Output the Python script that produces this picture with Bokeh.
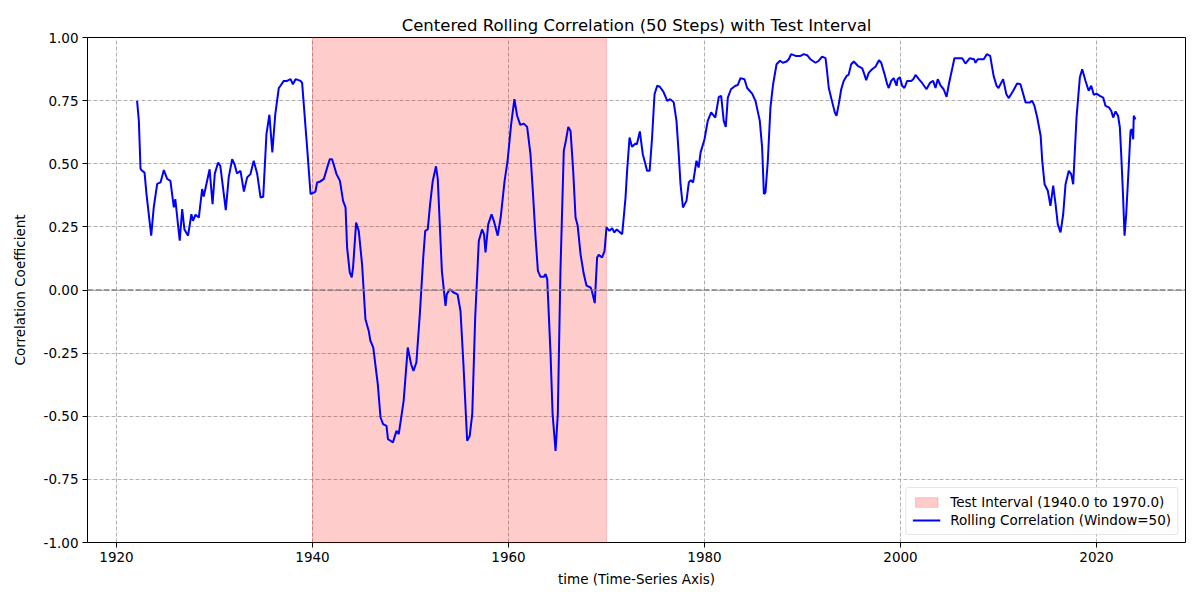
from bokeh.plotting import figure
from bokeh.models import FixedTicker, NumeralTickFormatter, Range1d, Span, Legend, LegendItem
from bokeh.embed import file_html
from bokeh.resources import INLINE

years = [1922.10,1922.28,1922.45,1922.62,1922.86,1923.06,1923.54,1923.80,1924.15,1924.49,1924.83,1925.17,1925.50,1925.85,1926.00,1926.45,1926.70,1926.93,1927.30,1927.64,1927.80,1928.06,1928.40,1928.74,1928.90,1929.50,1929.80,1930.03,1930.37,1930.60,1931.15,1931.45,1931.80,1932.04,1932.30,1932.65,1933.00,1933.33,1933.67,1934.00,1934.36,1934.70,1934.97,1935.30,1935.60,1935.90,1936.20,1936.56,1936.75,1937.07,1937.40,1937.76,1938.00,1938.27,1938.78,1938.94,1939.45,1939.80,1940.13,1940.30,1940.47,1940.80,1941.16,1941.50,1941.76,1942.00,1942.45,1942.80,1943.12,1943.37,1943.53,1943.80,1944.00,1944.14,1944.45,1944.72,1945.06,1945.40,1945.74,1945.90,1946.20,1946.66,1946.94,1947.20,1947.55,1947.70,1947.96,1948.20,1948.57,1948.80,1949.30,1949.72,1950.06,1950.30,1950.60,1950.95,1951.30,1951.50,1951.76,1952.00,1952.27,1952.60,1952.78,1953.20,1953.57,1953.70,1954.00,1954.40,1954.80,1955.10,1955.40,1955.78,1956.04,1956.30,1956.60,1956.97,1957.30,1957.50,1957.65,1957.93,1958.27,1958.50,1958.90,1959.20,1959.60,1959.90,1960.27,1960.60,1960.88,1961.20,1961.56,1961.90,1962.24,1962.50,1962.76,1963.00,1963.27,1963.60,1963.78,1963.95,1964.29,1964.50,1964.80,1965.03,1965.30,1965.64,1965.85,1966.10,1966.33,1966.60,1966.84,1967.06,1967.35,1967.68,1967.96,1968.37,1968.50,1968.80,1969.04,1969.20,1969.55,1969.80,1970.00,1970.30,1970.57,1970.80,1971.05,1971.60,1971.94,1972.10,1972.35,1972.60,1972.96,1973.10,1973.40,1973.70,1973.97,1974.14,1974.40,1974.65,1974.90,1975.17,1975.44,1975.80,1976.20,1976.50,1976.86,1977.14,1977.37,1977.55,1977.80,1978.16,1978.40,1978.60,1978.84,1979.18,1979.40,1979.60,1980.00,1980.33,1980.68,1981.10,1981.46,1981.70,1981.96,1982.17,1982.38,1982.70,1983.15,1983.40,1983.67,1984.08,1984.35,1984.86,1985.20,1985.64,1985.88,1986.06,1986.22,1986.46,1986.73,1987.00,1987.35,1987.70,1988.00,1988.37,1988.60,1988.84,1989.30,1989.80,1990.13,1990.47,1990.80,1991.33,1991.66,1992.00,1992.35,1992.50,1992.68,1993.00,1993.30,1993.47,1993.70,1993.95,1994.20,1994.50,1994.70,1994.97,1995.23,1995.64,1996.10,1996.33,1996.50,1996.77,1997.10,1997.45,1997.80,1998.03,1998.37,1998.64,1998.80,1999.05,1999.30,1999.60,1999.70,1999.93,2000.17,2000.40,2000.68,2001.08,2001.30,2001.53,2001.87,2002.20,2002.65,2003.00,2003.33,2003.57,2003.80,2004.10,2004.40,2004.70,2004.93,2005.30,2005.50,2005.94,2006.30,2006.63,2007.07,2007.50,2007.65,2007.88,2008.50,2008.80,2009.15,2009.50,2009.80,2010.00,2010.47,2010.80,2011.05,2011.50,2011.90,2012.24,2012.76,2013.20,2013.44,2013.67,2013.95,2014.30,2014.46,2014.70,2015.03,2015.30,2015.58,2015.82,2016.05,2016.33,2016.60,2016.84,2017.17,2017.42,2017.62,2017.96,2018.30,2018.54,2018.88,2019.20,2019.46,2019.72,2020.00,2020.34,2020.68,2020.92,2021.26,2021.50,2021.70,2021.94,2022.20,2022.38,2022.52,2022.70,2022.86,2023.03,2023.30,2023.47,2023.60,2023.74,2023.80,2023.97]

corr = [0.749,0.67,0.48,0.472,0.465,0.38,0.215,0.327,0.42,0.426,0.475,0.44,0.432,0.327,0.36,0.195,0.32,0.24,0.215,0.30,0.274,0.298,0.287,0.40,0.37,0.478,0.34,0.461,0.505,0.49,0.316,0.446,0.518,0.498,0.461,0.472,0.39,0.446,0.459,0.512,0.459,0.366,0.369,0.617,0.694,0.545,0.696,0.80,0.81,0.828,0.828,0.835,0.815,0.835,0.828,0.82,0.564,0.38,0.386,0.39,0.426,0.43,0.44,0.485,0.518,0.518,0.459,0.432,0.353,0.327,0.168,0.07,0.05,0.09,0.267,0.234,0.10,-0.116,-0.162,-0.20,-0.228,-0.373,-0.505,-0.531,-0.538,-0.591,-0.597,-0.604,-0.558,-0.571,-0.439,-0.228,-0.294,-0.32,-0.287,-0.096,0.129,0.234,0.24,0.34,0.432,0.49,0.44,0.076,-0.063,-0.017,0.003,-0.01,-0.017,-0.083,-0.294,-0.597,-0.578,-0.492,-0.109,0.195,0.24,0.221,0.149,0.26,0.30,0.274,0.215,0.287,0.432,0.51,0.657,0.756,0.69,0.654,0.659,0.646,0.538,0.38,0.208,0.076,0.052,0.052,0.063,0.043,-0.254,-0.492,-0.637,-0.492,0.076,0.551,0.591,0.646,0.63,0.472,0.287,0.254,0.142,0.063,0.017,0.01,-0.003,-0.052,0.129,0.139,0.129,0.155,0.248,0.234,0.245,0.228,0.24,0.221,0.366,0.472,0.604,0.567,0.58,0.577,0.628,0.538,0.498,0.472,0.472,0.604,0.775,0.809,0.805,0.786,0.749,0.756,0.743,0.67,0.538,0.419,0.327,0.353,0.426,0.435,0.426,0.512,0.485,0.545,0.597,0.67,0.703,0.683,0.765,0.769,0.67,0.646,0.762,0.795,0.809,0.812,0.839,0.835,0.80,0.778,0.749,0.67,0.564,0.38,0.386,0.512,0.723,0.815,0.894,0.908,0.90,0.905,0.914,0.934,0.927,0.927,0.934,0.93,0.914,0.90,0.908,0.924,0.918,0.868,0.80,0.749,0.703,0.69,0.736,0.795,0.828,0.848,0.852,0.894,0.905,0.888,0.878,0.852,0.831,0.861,0.874,0.884,0.91,0.90,0.855,0.815,0.80,0.828,0.839,0.809,0.835,0.842,0.809,0.80,0.828,0.828,0.835,0.852,0.835,0.82,0.795,0.82,0.828,0.80,0.835,0.809,0.795,0.765,0.815,0.881,0.918,0.918,0.918,0.897,0.918,0.914,0.90,0.914,0.914,0.934,0.927,0.848,0.809,0.80,0.835,0.775,0.76,0.789,0.818,0.815,0.743,0.743,0.749,0.729,0.683,0.611,0.512,0.419,0.393,0.333,0.413,0.34,0.26,0.228,0.30,0.419,0.472,0.459,0.419,0.683,0.842,0.874,0.828,0.789,0.809,0.773,0.778,0.769,0.762,0.729,0.723,0.71,0.683,0.707,0.69,0.644,0.538,0.38,0.215,0.30,0.498,0.63,0.637,0.597,0.69,0.676]

test_start = 1940.0
test_end = 1970.0
x_ticks = [1920, 1940, 1960, 1980, 2000, 2020]
y_ticks = [-1.0, -0.75, -0.5, -0.25, 0.0, 0.25, 0.5, 0.75, 1.0]

FONT = "DejaVu Sans"

p = figure(width=1200, height=600, output_backend="svg", toolbar_location=None,
           x_range=Range1d(1917.04, 2029.08), y_range=Range1d(-1.0, 1.0),
           min_border_left=87, min_border_right=15, min_border_top=37, min_border_bottom=58)

p.title.text = "Centered Rolling Correlation (50 Steps) with Test Interval"
p.title.align = "center"
p.title.text_font = FONT
p.title.text_font_size = "16.5px"
p.title.text_font_style = "normal"
p.title.text_color = "black"
p.title.offset = 0
p.title.standoff = 6

p.outline_line_color = "black"
p.outline_line_alpha = 1.0
p.outline_line_width = 1

for ax in (p.xaxis, p.yaxis):
    ax.axis_line_color = None
    ax.major_label_text_font = FONT
    ax.major_label_text_font_size = "13.5px"
    ax.major_label_text_color = "black"
    ax.axis_label_text_font = FONT
    ax.axis_label_text_font_size = "13.5px"
    ax.axis_label_text_font_style = "normal"
    ax.axis_label_text_color = "black"
    ax.minor_tick_line_color = None
    ax.major_tick_in = 0
    ax.major_tick_out = 5
    ax.major_tick_line_color = "black"

p.xaxis.ticker = FixedTicker(ticks=x_ticks)
p.yaxis.ticker = FixedTicker(ticks=y_ticks)
p.yaxis.formatter = NumeralTickFormatter(format="0.00")
p.xaxis.axis_label = "time (Time-Series Axis)"
p.yaxis.axis_label = "Correlation Coefficient"
p.xaxis.axis_label_standoff = 6
p.yaxis.axis_label_standoff = 13
p.xaxis.major_label_standoff = 4
p.yaxis.major_label_standoff = 4

p.grid.grid_line_color = "#b0b0b0"
p.grid.grid_line_dash = "4 2"
p.grid.grid_line_width = 1

span = p.quad(left=[test_start], right=[test_end], top=[1.0], bottom=[-1.0],
              fill_color="red", fill_alpha=0.2, line_color="red", line_alpha=0.2, line_width=1)

zero = Span(location=0, dimension="width", line_color="gray", line_dash="6 2", line_width=1.6)
p.add_layout(zero)

line = p.line(years, corr, line_color="blue", line_width=2)

legend = Legend(items=[
    LegendItem(label="Test Interval (1940.0 to 1970.0)", renderers=[span]),
    LegendItem(label="Rolling Correlation (Window=50)", renderers=[line]),
], location="bottom_right")
legend.label_text_font = FONT
legend.label_text_font_size = "13.5px"
legend.label_text_color = "black"
legend.border_line_color = "#cccccc"
legend.border_radius = 3
legend.background_fill_alpha = 0.8
legend.glyph_width = 28
legend.glyph_height = 12
legend.spacing = 2
legend.padding = 6
legend.margin = 7
legend.label_standoff = 10
legend.label_height = 14
p.add_layout(legend)

open("out.html", "w").write(file_html(p, INLINE))
